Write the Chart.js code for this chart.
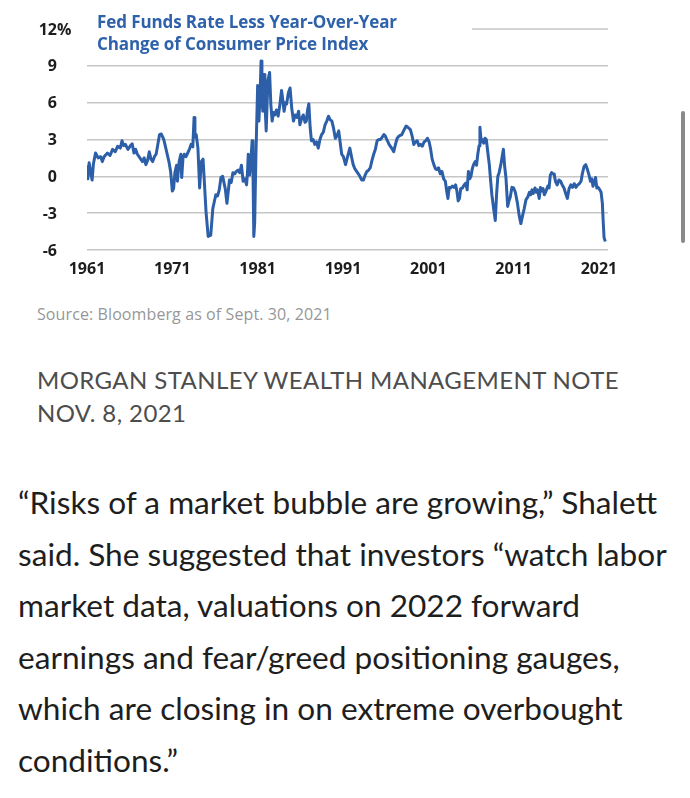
<!DOCTYPE html>
<html>
<head>
<meta charset="utf-8">
<script src="https://cdn.jsdelivr.net/npm/chart.js@4/dist/chart.umd.min.js"></script>
<style>
  html, body { margin: 0; padding: 0; background: #fff; }
  body { width: 690px; height: 798px; position: relative; overflow: hidden; }
  #wrap { position: absolute; left: 0; top: 0; width: 690px; height: 290px; }
  #title { position: absolute; left: 97px; top: 11px; font-family: "Open Sans", sans-serif; font-weight: 700;
           font-size: 17px; line-height: 22px; color: #2f62aa; letter-spacing: -0.1px; }
  #source { position: absolute; left: 37px; top: 303px; font-family: "Open Sans", sans-serif; font-size: 16px;
            color: #979797; line-height: 22px; letter-spacing: 0.1px; }
  #note { position: absolute; left: 37px; top: 363px; font-family: Lato, sans-serif; font-size: 24px;
          color: #4d4d4d; line-height: 33px; letter-spacing: 0.4px; }
  #body { position: absolute; left: 18px; top: 477px; font-family: Lato, sans-serif; font-size: 31.6px;
          color: #1e1e1e; line-height: 51.5px; white-space: nowrap; }
  #scroll { position: absolute; left: 681px; top: 111px; width: 4px; height: 132px; background: #8a8a8a; border-radius: 2px; }
</style>
</head>
<body>
<div id="wrap"><canvas id="c" width="690" height="290"></canvas></div>
<div id="title">Fed Funds Rate Less Year-Over-Year<br>Change of Consumer Price Index</div>
<div id="source">Source: Bloomberg as of Sept. 30, 2021</div>
<div id="note">MORGAN STANLEY WEALTH MANAGEMENT NOTE<br>NOV. 8, 2021</div>
<div id="body">“Risks of a market bubble are growing,” Shalett<br>said. She suggested that investors “watch labor<br>market data, valuations on 2022 forward<br>earnings and fear/greed positioning gauges,<br>which are closing in on extreme overbought<br>conditions.”</div>
<div id="scroll"></div>
<script>
const years = [
  1961.0,1961.1,1961.25,1961.4,1961.6,1961.75,1962.0,1962.3,1962.6,1962.8,
  1963.0,1963.4,1963.7,1964.0,1964.3,1964.6,1964.9,1965.1,1965.3,1965.5,
  1965.8,1966.1,1966.3,1966.5,1966.7,1966.9,1967.2,1967.5,1967.7,1967.9,
  1968.1,1968.3,1968.5,1968.7,1968.9,1969.1,1969.3,1969.5,1969.7,1970.0,
  1970.2,1970.4,1970.6,1970.8,1971.0,1971.15,1971.3,1971.5,1971.6,1971.8,
  1972.0,1972.1,1972.25,1972.4,1972.6,1972.8,1973.0,1973.2,1973.4,1973.55,
  1973.65,1973.8,1974.0,1974.2,1974.4,1974.6,1974.75,1974.95,1975.2,1975.5,
  1975.75,1976.1,1976.3,1976.5,1976.7,1976.9,1977.2,1977.4,1977.7,1977.9,
  1978.1,1978.3,1978.5,1978.7,1978.9,1979.1,1979.3,1979.5,1979.7,1979.8,
  1979.9,1980.05,1980.2,1980.35,1980.45,1980.55,1980.65,1980.8,1981.0,1981.15,
  1981.3,1981.4,1981.5,1981.6,1981.75,1981.85,1982.0,1982.2,1982.4,1982.55,
  1982.7,1982.85,1983.0,1983.2,1983.4,1983.6,1983.8,1983.95,1984.1,1984.25,
  1984.4,1984.6,1984.8,1985.0,1985.2,1985.4,1985.6,1985.8,1985.95,1986.15,
  1986.35,1986.55,1986.7,1986.85,1987.0,1987.15,1987.3,1987.5,1987.7,1987.9,
  1988.1,1988.3,1988.5,1988.7,1988.9,1989.1,1989.3,1989.5,1989.7,1989.9,
  1990.1,1990.3,1990.5,1990.7,1990.85,1991.05,1991.3,1991.5,1991.8,1992.0,
  1992.2,1992.4,1992.6,1992.9,1993.2,1993.4,1993.6,1993.8,1994.0,1994.2,
  1994.4,1994.6,1994.8,1995.0,1995.2,1995.4,1995.6,1995.8,1995.95,1996.2,
  1996.4,1996.7,1996.95,1997.15,1997.35,1997.6,1997.9,1998.1,1998.4,1998.6,
  1998.9,1999.1,1999.3,1999.5,1999.7,1999.9,2000.1,2000.3,2000.5,2000.7,
  2000.9,2001.1,2001.25,2001.45,2001.65,2001.85,2002.0,2002.2,2002.4,2002.6,
  2002.8,2003.0,2003.15,2003.3,2003.45,2003.6,2003.8,2004.0,2004.2,2004.35,
  2004.5,2004.65,2004.8,2005.0,2005.2,2005.4,2005.55,2005.7,2005.85,2006.0,
  2006.15,2006.3,2006.5,2006.65,2006.8,2006.95,2007.05,2007.2,2007.35,2007.5,
  2007.65,2007.8,2008.0,2008.15,2008.3,2008.45,2008.65,2008.85,2009.0,2009.15,
  2009.3,2009.5,2009.65,2009.8,2009.95,2010.1,2010.3,2010.45,2010.6,2010.8,
  2011.0,2011.2,2011.45,2011.65,2011.85,2012.05,2012.25,2012.45,2012.65,2012.85,
  2013.0,2013.15,2013.3,2013.5,2013.65,2013.8,2014.0,2014.15,2014.3,2014.45,
  2014.6,2014.8,2015.0,2015.15,2015.3,2015.45,2015.6,2015.75,2015.9,2016.1,
  2016.3,2016.5,2016.7,2016.9,2017.1,2017.3,2017.5,2017.7,2017.9,2018.1,
  2018.3,2018.5,2018.7,2018.9,2019.05,2019.25,2019.45,2019.65,2019.8,2020.0,
  2020.15,2020.3,2020.45,2020.6,2020.75,2020.9,2021.1,2021.25,2021.4,2021.5,
  2021.6,2021.75
];
const values = [
  0.8,-0.2,1.1,0.5,-0.3,1.0,1.9,1.5,1.6,1.2,
  1.6,1.9,1.7,2.2,2.0,2.45,2.3,2.9,2.5,2.6,
  2.2,2.5,2.65,1.9,2.2,1.8,1.5,1.2,1.5,0.95,
  1.3,2.0,1.4,1.2,1.6,1.8,2.6,3.4,3.45,3.0,
  2.4,1.8,1.2,0.4,-1.2,-1.0,0.3,0.9,-0.4,1.2,
  1.8,-0.1,1.5,1.8,1.6,1.9,2.2,2.6,2.4,4.8,
  3.2,3.4,2.3,-0.95,1.2,1.4,-0.4,-2.9,-4.9,-4.8,
  -2.6,-1.5,-1.6,-1.1,-0.1,0.0,-1.0,-2.2,-0.3,-0.5,
  0.3,0.2,0.4,0.5,0.3,0.9,-0.4,-0.2,-0.7,0.2,
  1.8,0.1,1.2,2.9,0.5,-4.9,-3.8,1.8,7.4,4.5,
  7.0,9.4,6.5,5.3,8.3,6.0,3.7,7.8,8.45,5.8,
  4.5,5.2,5.0,5.4,4.9,5.8,7.0,6.2,5.3,6.0,
  5.9,6.8,7.2,5.5,4.5,5.0,4.8,5.3,4.2,4.7,
  5.0,4.4,4.5,5.4,5.9,4.0,2.9,3.0,2.6,2.8,
  2.3,3.0,3.4,3.6,4.2,4.5,4.9,4.6,4.5,3.9,
  3.1,3.3,3.7,2.6,1.8,1.6,0.95,1.5,2.3,1.6,
  0.95,0.6,0.4,0.1,-0.3,-0.3,0.1,0.4,0.5,0.7,
  1.3,1.8,2.2,2.9,3.0,3.0,3.2,3.4,3.3,2.9,
  2.6,2.3,2.0,2.6,3.1,3.3,3.4,3.7,4.1,4.0,
  3.8,3.3,2.6,2.8,2.9,2.5,2.6,2.45,2.8,2.9,
  3.1,2.8,2.3,1.4,0.95,0.6,0.55,0.7,0.2,0.4,
  -0.2,-0.4,-1.2,-1.8,-0.9,-0.95,-0.8,-0.9,-0.7,-1.2,
  -2.0,-1.8,-1.0,-0.95,-0.7,-0.55,-1.1,0.4,-0.2,0.0,
  0.6,0.95,1.2,0.9,1.8,2.5,4.0,2.8,3.0,2.7,
  3.1,3.0,1.8,0.95,-0.3,-1.5,-2.6,-3.6,-1.5,0.0,
  0.3,0.95,1.6,2.2,0.8,-0.1,-2.45,-2.0,-1.7,-0.9,
  -0.95,-1.3,-2.2,-3.2,-3.85,-3.2,-2.6,-1.9,-1.7,-1.3,
  -1.5,-1.1,-1.4,-0.95,-1.3,-1.1,-1.8,-0.9,-1.2,-1.0,
  -1.5,-1.2,-0.8,-0.95,0.1,0.3,0.2,0.2,-0.4,-0.7,
  -0.3,-0.4,-0.7,-0.95,-1.4,-1.8,-1.0,-0.7,-0.9,-0.6,
  -0.9,-0.7,-0.6,-0.4,0.2,0.8,0.95,0.55,0.2,-0.4,
  -0.2,-0.8,-0.5,-0.1,-0.95,-0.9,-1.1,-1.3,-2.2,-3.7,
  -5.0,-5.3
];
const xTickYears = [1961, 1971, 1981, 1991, 2001, 2011, 2021];
const xTickLabels = ['1961', '1971', '1981', '1991', '2001', '2011', '2021'];
const yTicks = [-6, -3, 0, 3, 6, 9, 12];
const yTickLabels = ['-6', '-3', '0', '3', '6', '9', '12'];

const LABEL_FONT = 'bold 16px "Open Sans", sans-serif';

const labelsPlugin = {
  id: 'customLabels',
  beforeDatasetsDraw(chart) {
    const ctx = chart.ctx, y = chart.scales.y, area = chart.chartArea;
    // the top gridline only runs to the right of the title
    const py = y.getPixelForValue(12);
    ctx.save();
    ctx.strokeStyle = '#c6c6c6';
    ctx.lineWidth = 1.6;
    ctx.beginPath();
    ctx.moveTo(472, py);
    ctx.lineTo(area.right, py);
    ctx.stroke();
    ctx.restore();
  },
  afterDraw(chart) {
    const ctx = chart.ctx, x = chart.scales.x, y = chart.scales.y, area = chart.chartArea;
    ctx.save();
    ctx.font = LABEL_FONT;
    ctx.fillStyle = '#1d1d1d';
    ctx.textBaseline = 'middle';
    yTicks.forEach((v, i) => {
      const py = y.getPixelForValue(v);
      ctx.textAlign = 'right';
      ctx.fillText(yTickLabels[i], 57, py + 1);
      if (v === 12) {
        ctx.textAlign = 'left';
        ctx.fillText('%', 57, py + 1);
      }
    });
    ctx.textAlign = 'center';
    xTickYears.forEach((yr, i) => {
      ctx.fillText(xTickLabels[i], x.getPixelForValue(yr), area.bottom + 19);
    });
    ctx.restore();
  }
};

new Chart(document.getElementById('c'), {
  type: 'line',
  data: {
    datasets: [{
      data: years.map((yr, i) => ({ x: yr, y: values[i] })),
      borderColor: '#2c5fa8',
      borderWidth: 3,
      pointRadius: 0,
      tension: 0,
      fill: false,
      borderJoinStyle: 'round'
    }]
  },
  options: {
    responsive: false,
    animation: false,
    events: [],
    layout: { padding: { left: 87, right: 82, top: 29, bottom: 40 } },
    plugins: { legend: { display: false }, tooltip: { enabled: false }, title: { display: false } },
    scales: {
      x: { type: 'linear', min: 1961, max: 2022.06, display: false },
      y: {
        type: 'linear', min: -6, max: 12,
        afterBuildTicks: (s) => { s.ticks = yTicks.map(v => ({ value: v })); },
        ticks: { display: false },
        border: { display: false },
        grid: {
          drawTicks: false,
          lineWidth: 1.6,
          color: (c) => (c.tick && c.tick.value === 12) ? 'rgba(0,0,0,0)' : '#c6c6c6'
        }
      }
    }
  },
  plugins: [labelsPlugin]
});
</script>
</body>
</html>
